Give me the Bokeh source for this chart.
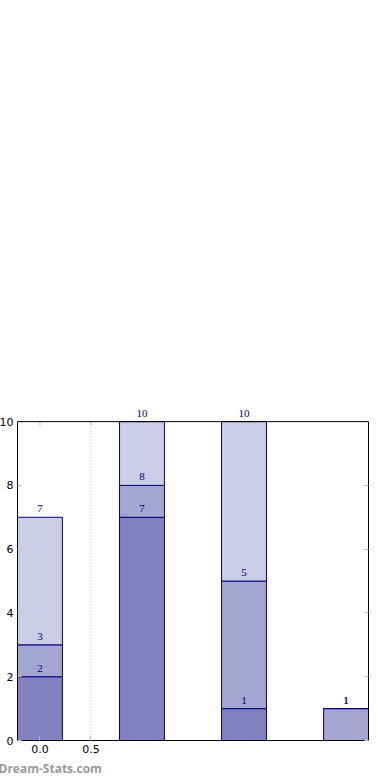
from bokeh.plotting import figure
from bokeh.models import (ColumnDataSource, FixedTicker, LinearAxis, Range1d, Title,
                          LabelSet, Span)
from bokeh.embed import file_html
from bokeh.resources import INLINE
import numpy as np

# ---- data ----
positions = [0, 1, 2, 3]
series_a = [2, 7, 1, 0]
series_b = [1, 1, 4, 1]
series_c = [4, 2, 5, 0]
x_ticks = [0.0, 0.5]
x_tick_labels = {0.0: "0.0", 0.5: "0.5"}
y_ticks = [0, 2, 4, 6, 8, 10]
y_min, y_max = 0, 10

fills = ["#8282C0", "#A4A5D1", "#CDCDE5"]
edge = "#000080"

# headroom above y_max so that the value labels above full bars stay visible
p = figure(width=388, height=788, output_backend="svg", toolbar_location=None,
           x_range=Range1d(-0.22, 3.22), y_range=Range1d(y_min, y_max + 0.6),
           min_border_left=25, min_border_right=12, min_border_top=410,
           min_border_bottom=40, x_axis_type=None, y_axis_type=None)
p.styles = {"margin-left": "-8px", "margin-top": "-8px", "margin-bottom": "-16px"}
p.outline_line_color = None
p.background_fill_color = "white"
p.border_fill_color = "white"
p.xgrid.visible = False
p.ygrid.visible = False

# dotted vertical grid line at the second x tick
p.segment(x0=[x_ticks[1]], y0=[y_min], x1=[x_ticks[1]], y1=[y_max],
          line_color="#bbbbbb", line_dash="1 2", line_width=1, level="underlay")

series = [series_a, series_b, series_c]
bottom = np.zeros(len(positions))
for vals, col in zip(series, fills):
    top = bottom + np.array(vals, dtype=float)
    src = ColumnDataSource(dict(x=positions, bottom=bottom.copy(), top=top.copy()))
    p.vbar(x="x", bottom="bottom", top="top", width=0.44, source=src,
           fill_color=col, line_color=edge, line_width=1)
    bottom = top

# labels: cumulative totals above each segment
bottom = np.zeros(len(positions))
for vals in series:
    top = bottom + np.array(vals, dtype=float)
    xs, ys, ts = [], [], []
    for xi, t in zip(positions, top):
        if t > 0:
            xs.append(xi)
            ys.append(t)
            ts.append(str(int(t)))
    lsrc = ColumnDataSource(dict(x=xs, y=ys, t=ts))
    p.add_layout(LabelSet(x="x", y="y", text="t", source=lsrc, text_align="center",
                          text_baseline="alphabetic", y_offset=5, text_font_size="11px",
                          text_font="DejaVu Sans", text_color="#000080"))
    bottom = top

# top spine and top ticks
p.add_layout(Span(location=y_max, dimension="width", line_color="black", line_width=1))
p.segment(x0=x_ticks, y0=[y_max] * len(x_ticks), x1=x_ticks,
          y1=[y_max - 0.125] * len(x_ticks), line_color="#bbbbbb", line_width=1)

def style_axis(ax):
    ax.major_tick_in = 4
    ax.major_tick_out = 0
    ax.minor_tick_in = 0
    ax.minor_tick_out = 0
    ax.major_tick_line_color = "#bbbbbb"
    ax.major_tick_line_width = 1
    ax.axis_line_color = "black"
    ax.major_label_text_font = "DejaVu Sans"
    ax.major_label_text_font_size = "11px"
    ax.major_label_text_color = "black"
    ax.major_label_standoff = 4

xb = LinearAxis(ticker=FixedTicker(ticks=x_ticks), major_label_overrides=x_tick_labels)
style_axis(xb)
p.add_layout(xb, "below")
yl = LinearAxis(ticker=FixedTicker(ticks=y_ticks), bounds=(y_min, y_max))
style_axis(yl)
p.add_layout(yl, "left")
yr = LinearAxis(ticker=FixedTicker(ticks=y_ticks), bounds=(y_min, y_max),
                major_label_overrides={t: "" for t in y_ticks})
style_axis(yr)
yr.major_label_standoff = 0
p.add_layout(yr, "right")

wm = Title(text="Dream-Stats.com", align="left", offset=-19,
           text_font="Open Sans", text_font_style="bold",
           text_font_size="12px", text_color="#999999", standoff=5)
p.add_layout(wm, "below")

open("out.html", "w").write(file_html(p, INLINE))
